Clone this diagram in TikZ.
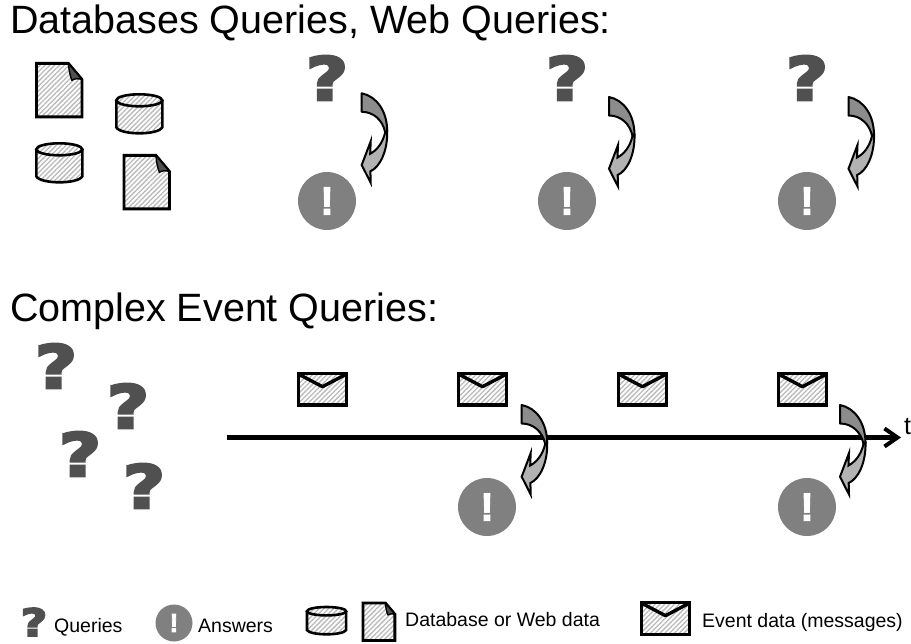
\documentclass[tikz,border=0pt]{standalone}
\usepackage{fontspec}
\setmainfont{Liberation Sans}
\newfontfamily\glyphfont[FakeBold=4]{DejaVu Sans Bold}
\newfontfamily\markfont[FakeBold=3]{Liberation Sans Bold}
\usetikzlibrary{positioning,arrows.meta,patterns.meta}
\definecolor{querygray}{HTML}{505050}
\definecolor{answergray}{HTML}{808080}
\definecolor{bendgray}{HTML}{8C8C8C}
\definecolor{bendlight}{HTML}{B2B2B2}
\tikzset{
    hatched/.style={preaction={fill=white}, preaction={pattern={Lines[angle=45, distance=3.4pt, line width=1.3pt]}, pattern color=gray!55}},
    question/.style={inner sep=0pt, xscale=1.22, transform shape, text=querygray, font=\glyphfont\fontsize{60}{60}\selectfont},
    questionsmall/.style={question, font=\glyphfont\fontsize{38}{38}\selectfont},
    answer/.style={circle, inner sep=0pt, minimum size=58pt, fill=answergray, text=white, font=\markfont\fontsize{39}{39}\selectfont},
    answersmall/.style={answer, minimum size=37pt, font=\markfont\fontsize{26}{26}\selectfont},
    headline/.style={anchor=base west, inner sep=0pt, font=\fontsize{39.5}{39.5}\selectfont},
    legendtext/.style={anchor=base west, inner sep=0pt, font=\fontsize{19.5}{19.5}\selectfont},
    pics/docshape/.style={code={
        \draw[hatched, line width=2.8pt, line join=miter] (0,0) -- (32,0) -- (45.5,16) -- (45.5,53.5) -- (0,53.5) -- cycle;
        \draw[fill=querygray, line width=1.4pt, line join=round] (32,0) .. controls (32.5,6) and (33.5,12) .. (35.5,17) .. controls (38,15) and (42,15) .. (45.5,16) -- cycle;
    }},
    pics/dbshape/.style={code={
        \draw[hatched, line width=2.6pt] (0,6) -- (0,33) .. controls (4,41) and (42,41) .. (46,33) -- (46,6);
        \draw[hatched, line width=2.6pt] (23,6) ellipse (23 and 6);
    }},
    pics/mailshape/.style={code={
        \draw[hatched, line width=3.4pt, line join=miter] (0,0) rectangle (47.5,31.5);
        \draw[line width=3.4pt, line join=round] (1,1) -- (23.75,13) -- (46.5,1);
    }},
    pics/bendshape/.style={code={
        \draw[fill=bendlight, line width=2pt, line join=miter] (23.5,39) .. controls (21,50) and (15,57) .. (8.5,60.5) -- (9,48) -- (0,71.7) -- (9,89.5) -- (8.7,78) .. controls (18,74) and (26,58) .. (25.5,38) -- cycle;
        \draw[fill=bendgray, line width=2pt, line join=round] (0,0) .. controls (15,3) and (25.5,18) .. (25.5,38) -- (23.5,39) .. controls (21,27) and (12,18.5) .. (0,18.5) -- cycle;
    }}
}
\begin{document}
\begin{tikzpicture}[x=1pt, y=-1pt]
    \useasboundingbox (0,0) rectangle (911,644);

    %% Databases and web
    \node[headline] (head1) at (10,33.5) {Databases Queries, Web Queries:};
    \pic (doc1) at (36.4,63.4) {docshape};
    \pic (db1) at (116.3,94.3) {dbshape};
    \pic (db2) at (36.3,143.3) {dbshape};
    \pic (doc2) at (123.9,155.4) {docshape};

    \node[question] (q1) at (327,78) {?};
    \node[question] (q2) at (567,78) {?};
    \node[question] (q3) at (807,78) {?};
    \node[answer] (a1) at (327,201) {!};
    \node[answer] (a2) at (567,201) {!};
    \node[answer] (a3) at (807,201) {!};
    \pic (bend1) at (361.7,93.3) {bendshape};
    \pic (bend2) at (609,97) {bendshape};
    \pic (bend3) at (848.5,97) {bendshape};

    %% Complex events
    \node[headline] (head2) at (10,321.5) {Complex Event Queries:};
    \node[question] (q4) at (56,366) {?};
    \node[question] (q5) at (128,406) {?};
    \node[question] (q6) at (80,454) {?};
    \node[question] (q7) at (144,486) {?};

    \pic (mail1) at (298.7,373.7) {mailshape};
    \pic (mail2) at (458.7,373.7) {mailshape};
    \pic (mail3) at (618.7,373.7) {mailshape};
    \pic (mail4) at (778.7,373.7) {mailshape};

    \coordinate (tstart) at (227,437.5);
    \coordinate (tend) at (901,437.5);
    \draw[-{Straight Barb[length=13pt, width=18pt, line width=4pt]}, line width=4.5pt] (tstart) -- (tend);
    \node[anchor=base west, inner sep=0pt, font=\fontsize{25}{25}\selectfont] (t) at (904,435) {t};

    \node[answer] (a4) at (487,507) {!};
    \node[answer] (a5) at (807,507) {!};
    \pic (bend4) at (521.7,405) {bendshape};
    \pic (bend5) at (840,405) {bendshape};

    %% Legend
    \node[questionsmall] (q8) at (34,622) {?};
    \node[legendtext] (l1) at (54,632) {Queries};
    \node[answersmall] (a6) at (174,623) {!};
    \node[legendtext] (l2) at (198,632) {Answers};
    \pic[xscale=0.85, yscale=0.7] (db3) at (307,607) {dbshape};
    \pic[scale=0.7] (doc3) at (363,603) {docshape};
    \node[legendtext] (l3) at (405,626) {Database or Web data};
    \pic (mail5) at (641.7,602.7) {mailshape};
    \node[legendtext] (l4) at (702,627) {Event data (messages)};
\end{tikzpicture}
\end{document}
